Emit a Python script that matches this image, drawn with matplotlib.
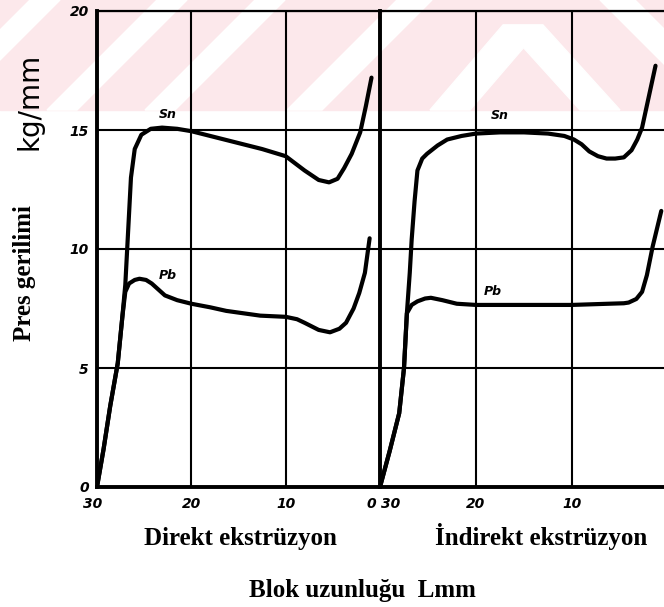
import matplotlib.pyplot as plt
from matplotlib.patches import Polygon, Rectangle
from matplotlib.transforms import ScaledTranslation

# ---- data (L in mm, pressure in kg/mm2) ----
direct_sn_L = [30, 29.3, 28.6, 27.8, 27.3, 27.0, 26.8, 26.6, 26.4, 26.0, 25.3, 24.3, 23.1,
               21.5, 20, 17.5, 15, 12.5, 10, 8, 6.5, 5.4, 4.5, 3.8, 3.0, 2.1, 1.5, 0.9]
direct_sn_p = [0, 1.6, 3.4, 5.2, 7.2, 8.5, 10.0, 11.5, 13.0, 14.2, 14.8, 15.05, 15.1,
               15.05, 14.95, 14.7, 14.45, 14.2, 13.9, 13.3, 12.9, 12.8, 12.95, 13.4, 14.0, 14.9, 16.0, 17.2]

direct_pb_L = [30, 29.3, 28.6, 27.8, 27.3, 27.0, 26.6, 26.0, 25.5, 24.8, 24.2, 22.8, 21.5, 20,
               18, 16.3, 14.5, 12.7, 10, 8.8, 8, 6.5, 5.3, 4.3, 3.6, 2.8, 2.2, 1.6, 1.1]
direct_pb_p = [0, 1.6, 3.4, 5.2, 7.2, 8.2, 8.55, 8.7, 8.75, 8.7, 8.55, 8.05, 7.85, 7.7,
               7.55, 7.4, 7.3, 7.2, 7.15, 7.05, 6.9, 6.6, 6.5, 6.65, 6.9, 7.5, 8.15, 9.0, 10.45]

indirect_sn_L = [30, 29.0, 28, 27.5, 27.2, 26.9, 26.7, 26.4, 26.1, 25.6, 25.1, 24, 23, 21.5, 20,
                 17.5, 15, 12.5, 10.8, 9.8, 9, 8.2, 7.3, 6.4, 5.5, 4.6, 3.8, 3.2, 2.7, 2.0, 1.3]
indirect_sn_p = [0, 1.5, 3.1, 5.0, 7.3, 9.0, 10.4, 12.0, 13.3, 13.8, 14.0, 14.35, 14.6, 14.75, 14.85,
                 14.9, 14.9, 14.85, 14.75, 14.6, 14.4, 14.1, 13.9, 13.8, 13.8, 13.85, 14.15, 14.6, 15.1, 16.4, 17.7]

indirect_pb_L = [30, 29, 28, 27.5, 27.2, 26.7, 26.1, 25.3, 24.7, 23.5, 22, 20, 15, 10, 6.2,
                 4.6, 4.1, 3.3, 2.7, 2.2, 1.6, 0.7]
indirect_pb_p = [0, 1.5, 3.1, 5.0, 7.3, 7.65, 7.8, 7.92, 7.95, 7.85, 7.7, 7.65, 7.65, 7.65, 7.7,
                 7.72, 7.75, 7.9, 8.2, 8.9, 10.1, 11.6]

x_ticks = [30, 20, 10, 0]
y_ticks = [0, 5, 10, 15, 20]

W, H = 664, 607
fig = plt.figure(figsize=(W / 100, H / 100), dpi=100)


def box(x0, y0, x1, y1):
    # pixel box (top-left origin) -> figure fraction rect
    return [x0 / W, 1 - y1 / H, (x1 - x0) / W, (y1 - y0) / H]


# faint watermark band at the top of the scan (behind everything)
pink = '#fce8eb'
fig.patches.append(Rectangle((0, 1 - 110 / H), 1, 110 / H, transform=fig.transFigure,
                             color=pink, zorder=-3))
stripes = [
    [(47, 110), (77, 110), (187, 0), (157, 0)],
    [(145, 110), (175, 110), (285, 0), (255, 0)],
    [(287, 110), (322, 110), (432, 0), (397, 0)],
    [(-30, 60), (0, 60), (60, 0), (30, 0)],
    [(430, 110), (470, 110), (543, 25), (503, 25)],
    [(503, 25), (543, 25), (620, 110), (580, 110)],
    [(600, 0), (635, 0), (745, 110), (710, 110)],
]
for s in stripes:
    fig.patches.append(Polygon([(x / W, 1 - y / H) for x, y in s], closed=True,
                               transform=fig.transFigure, color='white', zorder=-2))

ax1 = fig.add_axes(box(97, 11, 380, 487))
ax2 = fig.add_axes(box(380, 11, 668, 487))

tick_font = dict(fontsize=10, fontweight='bold', fontstyle='italic', family='DejaVu Sans')

for ax in (ax1, ax2):
    ax.set_zorder(1)
    ax.set_facecolor('none')
    ax.set_xlim(30, 0)
    ax.set_ylim(0, 20)
    ax.set_xticks(x_ticks)
    ax.set_yticks(y_ticks)
    ax.grid(True, color='black', linewidth=1.5)
    ax.tick_params(length=0, pad=7)
    for sp in ax.spines.values():
        sp.set_color('black')
        sp.set_linewidth(1.6)
    ax.spines['left'].set_linewidth(2.8)
    ax.spines['bottom'].set_linewidth(2.8)
    ax.set_xticklabels([str(t) for t in x_ticks], **tick_font)

ax1.set_yticklabels([str(t) for t in y_ticks], **tick_font)
ax1.tick_params(axis='y', pad=6)
ax2.set_yticklabels([])

# "0 30" at the shared border: nudge the two labels apart
lab0 = ax1.get_xticklabels()[-1]
lab0.set_horizontalalignment('right')
lab0.set_transform(lab0.get_transform() + ScaledTranslation(-3 / 72, 0, fig.dpi_scale_trans))
lab30 = ax2.get_xticklabels()[0]
lab30.set_horizontalalignment('left')
lab30.set_transform(lab30.get_transform() + ScaledTranslation(1 / 72, 0, fig.dpi_scale_trans))
lab30l = ax1.get_xticklabels()[0]
lab30l.set_transform(lab30l.get_transform() + ScaledTranslation(-3 / 72, 0, fig.dpi_scale_trans))

line_kw = dict(color='black', linewidth=3.0, solid_joinstyle='round', solid_capstyle='round')
ax1.plot(direct_sn_L, direct_sn_p, **line_kw)
ax1.plot(direct_pb_L, direct_pb_p, **line_kw)
ax2.plot(indirect_sn_L, indirect_sn_p, **line_kw)
ax2.plot(indirect_pb_L, indirect_pb_p, **line_kw)

lab_font = dict(fontsize=9, fontweight='bold', fontstyle='italic', ha='center', va='center')
ax1.text(22.5, 15.65, 'Sn', **lab_font)
ax1.text(22.5, 8.9, 'Pb', **lab_font)
ax2.text(17.5, 15.6, 'Sn', **lab_font)
ax2.text(18.2, 8.2, 'Pb', **lab_font)

serif = dict(family='Liberation Serif', fontweight='bold', fontsize=18)
fig.text(240 / W, 1 - 538 / H, 'Direkt ekstrüzyon', ha='center', va='center', **serif)
fig.text(541 / W, 1 - 537 / H, 'İndirekt ekstrüzyon', ha='center', va='center', **serif)
fig.text(362 / W, 1 - 590 / H, 'Blok uzunluğu  Lmm', ha='center', va='center', **serif)
fig.text(24 / W, 1 - 273 / H, 'Pres gerilimi', rotation=90, ha='center', va='center', **serif)
fig.text(29 / W, 1 - 101 / H, 'kg/mm', rotation=90, ha='center', va='center',
         fontsize=20, family='DejaVu Sans')

fig.savefig('out.png', dpi=100)
